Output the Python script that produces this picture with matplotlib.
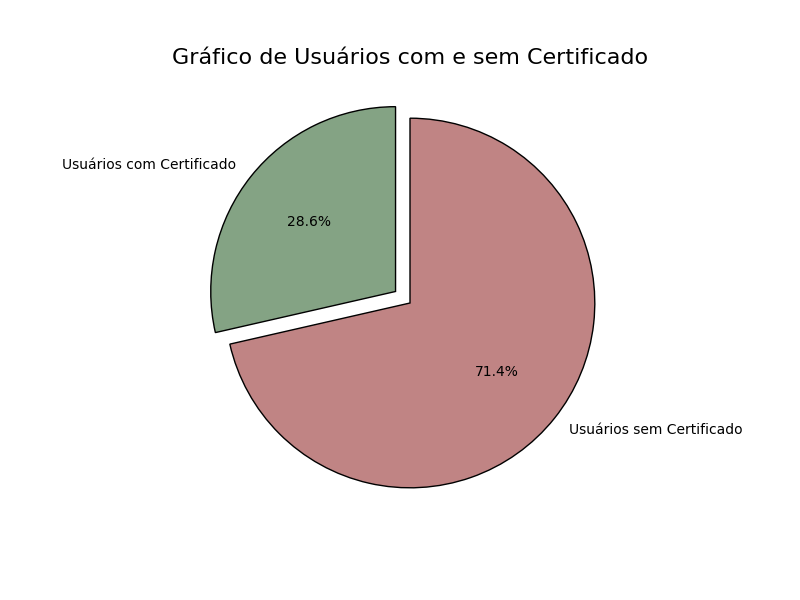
import matplotlib
matplotlib.use("Agg")
import matplotlib.pyplot as plt

labels = ["Usuários com Certificado", "Usuários sem Certificado"]
valores = [2, 5]
cores = ["#84a384", "#c08484"]
explode = [0.1, 0]

plt.figure(figsize=(8, 6))
plt.pie(valores, labels=labels, colors=cores, explode=explode, autopct="%1.1f%%",
        startangle=90, wedgeprops={"edgecolor": "black"})
plt.title("Gráfico de Usuários com e sem Certificado", fontsize=16)
plt.savefig("out.png", dpi=100)
